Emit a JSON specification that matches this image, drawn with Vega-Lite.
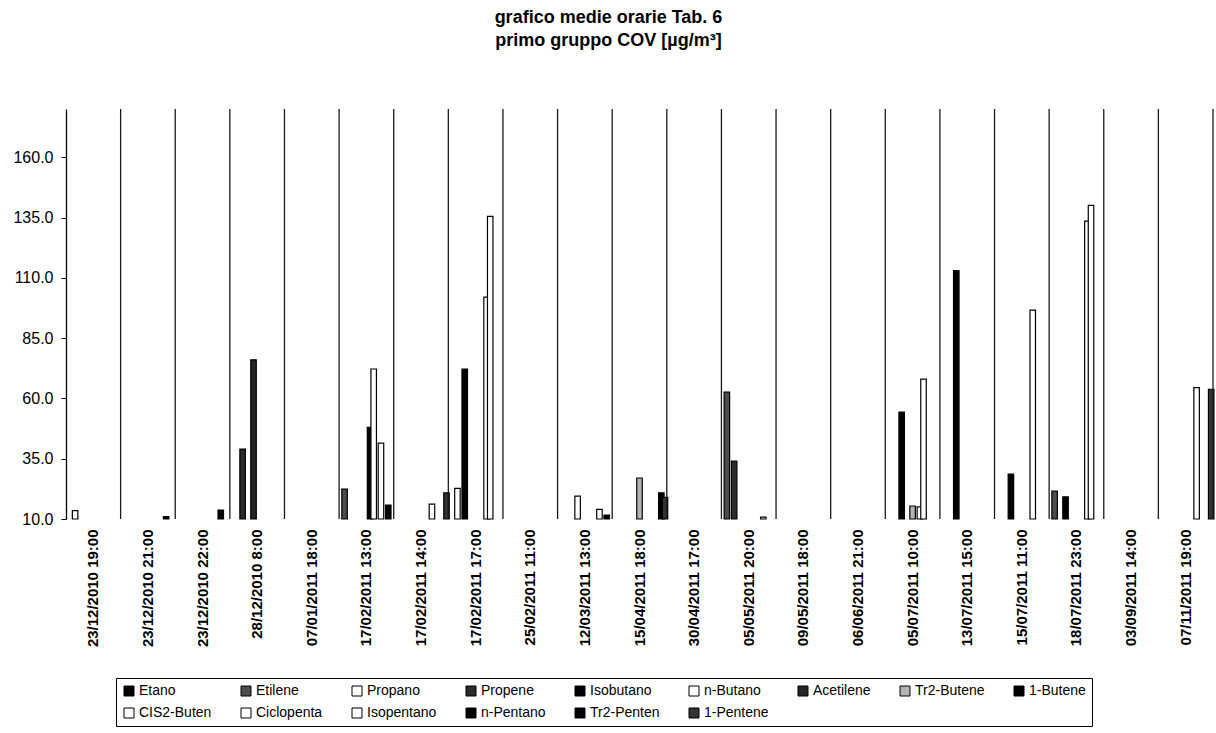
{
  "$schema": "https://vega.github.io/schema/vega-lite/v6.json",
  "width": 1147,
  "height": 410,
  "autosize": {"type": "none"},
  "padding": {"left": 66, "top": 109, "right": 3, "bottom": 214},
  "background": "white",
  "config": {
    "font": "Liberation Sans",
    "view": {"stroke": null}
  },
  "title": {
    "text": ["grafico medie orarie Tab. 6", "primo gruppo COV [µg/m³]"],
    "font": "Liberation Sans",
    "fontSize": 18,
    "fontWeight": "bold",
    "color": "black",
    "anchor": "middle",
    "frame": "group",
    "dx": -31,
    "offset": 58,
    "lineHeight": 23
  },
  "datasets": {
    "categorie": [
      {"data_ora": "23/12/2010 19:00"},
      {"data_ora": "23/12/2010 21:00"},
      {"data_ora": "23/12/2010 22:00"},
      {"data_ora": "28/12/2010 8:00"},
      {"data_ora": "07/01/2011 18:00"},
      {"data_ora": "17/02/2011 13:00"},
      {"data_ora": "17/02/2011 14:00"},
      {"data_ora": "17/02/2011 17:00"},
      {"data_ora": "25/02/2011 11:00"},
      {"data_ora": "12/03/2011 13:00"},
      {"data_ora": "15/04/2011 18:00"},
      {"data_ora": "30/04/2011 17:00"},
      {"data_ora": "05/05/2011 20:00"},
      {"data_ora": "09/05/2011 18:00"},
      {"data_ora": "06/06/2011 21:00"},
      {"data_ora": "05/07/2011 10:00"},
      {"data_ora": "13/07/2011 15:00"},
      {"data_ora": "15/07/2011 11:00"},
      {"data_ora": "18/07/2011 23:00"},
      {"data_ora": "03/09/2011 14:00"},
      {"data_ora": "07/11/2011 19:00"}
    ],
    "medie": [
      {"data_ora": "23/12/2010 19:00", "composto": "Propano", "valore": 13.5},
      {"data_ora": "23/12/2010 21:00", "composto": "n-Pentano", "valore": 11},
      {"data_ora": "23/12/2010 22:00", "composto": "n-Pentano", "valore": 13.7},
      {"data_ora": "28/12/2010 8:00", "composto": "Propene", "valore": 39},
      {"data_ora": "28/12/2010 8:00", "composto": "Acetilene", "valore": 76},
      {"data_ora": "17/02/2011 13:00", "composto": "Etilene", "valore": 22.4},
      {"data_ora": "17/02/2011 13:00", "composto": "1-Butene", "valore": 48},
      {"data_ora": "17/02/2011 13:00", "composto": "CIS2-Buten", "valore": 72.2},
      {"data_ora": "17/02/2011 13:00", "composto": "Isopentano", "valore": 41.5},
      {"data_ora": "17/02/2011 13:00", "composto": "Tr2-Penten", "valore": 15.8},
      {"data_ora": "17/02/2011 14:00", "composto": "Ciclopenta", "valore": 16.2},
      {"data_ora": "17/02/2011 14:00", "composto": "1-Pentene", "valore": 20.8},
      {"data_ora": "17/02/2011 17:00", "composto": "Propano", "valore": 22.7},
      {"data_ora": "17/02/2011 17:00", "composto": "Isobutano", "valore": 72.2},
      {"data_ora": "17/02/2011 17:00", "composto": "Ciclopenta", "valore": 102},
      {"data_ora": "17/02/2011 17:00", "composto": "Isopentano", "valore": 135.5},
      {"data_ora": "12/03/2011 13:00", "composto": "n-Butano", "valore": 19.5},
      {"data_ora": "12/03/2011 13:00", "composto": "Isopentano", "valore": 14},
      {"data_ora": "12/03/2011 13:00", "composto": "Tr2-Penten", "valore": 11.6},
      {"data_ora": "15/04/2011 18:00", "composto": "Tr2-Butene", "valore": 27},
      {"data_ora": "15/04/2011 18:00", "composto": "Tr2-Penten", "valore": 20.8},
      {"data_ora": "15/04/2011 18:00", "composto": "1-Pentene", "valore": 19},
      {"data_ora": "05/05/2011 20:00", "composto": "Etilene", "valore": 62.6},
      {"data_ora": "05/05/2011 20:00", "composto": "Propene", "valore": 34},
      {"data_ora": "05/05/2011 20:00", "composto": "Isopentano", "valore": 10.8},
      {"data_ora": "05/07/2011 10:00", "composto": "Isobutano", "valore": 54.3},
      {"data_ora": "05/07/2011 10:00", "composto": "Tr2-Butene", "valore": 15.4},
      {"data_ora": "05/07/2011 10:00", "composto": "CIS2-Buten", "valore": 15},
      {"data_ora": "05/07/2011 10:00", "composto": "Ciclopenta", "valore": 68},
      {"data_ora": "13/07/2011 15:00", "composto": "Isobutano", "valore": 113},
      {"data_ora": "15/07/2011 11:00", "composto": "Isobutano", "valore": 28.6},
      {"data_ora": "15/07/2011 11:00", "composto": "Ciclopenta", "valore": 96.6},
      {"data_ora": "18/07/2011 23:00", "composto": "Etilene", "valore": 21.6},
      {"data_ora": "18/07/2011 23:00", "composto": "Isobutano", "valore": 19.2},
      {"data_ora": "18/07/2011 23:00", "composto": "Ciclopenta", "valore": 133.5},
      {"data_ora": "18/07/2011 23:00", "composto": "Isopentano", "valore": 140},
      {"data_ora": "07/11/2011 19:00", "composto": "Ciclopenta", "valore": 64.5},
      {"data_ora": "07/11/2011 19:00", "composto": "1-Pentene", "valore": 63.8}
    ]
  },
  "layer": [
    {
      "data": {"name": "medie"},
      "mark": {"type": "bar", "width": 5.5, "stroke": "black", "strokeWidth": 1.2},
      "encoding": {
        "x": {
          "field": "data_ora",
          "type": "ordinal",
          "scale": {
            "domain": ["23/12/2010 19:00", "23/12/2010 21:00", "23/12/2010 22:00", "28/12/2010 8:00", "07/01/2011 18:00", "17/02/2011 13:00", "17/02/2011 14:00", "17/02/2011 17:00", "25/02/2011 11:00", "12/03/2011 13:00", "15/04/2011 18:00", "30/04/2011 17:00", "05/05/2011 20:00", "09/05/2011 18:00", "06/06/2011 21:00", "05/07/2011 10:00", "13/07/2011 15:00", "15/07/2011 11:00", "18/07/2011 23:00", "03/09/2011 14:00", "07/11/2011 19:00"],
            "paddingInner": 0,
            "paddingOuter": 0
          },
          "axis": {
            "title": null,
            "labelAngle": -90,
            "labelFont": "Liberation Sans",
            "labelFontSize": 15,
            "labelFontWeight": "bold",
            "labelColor": "black",
            "labelPadding": 10,
            "labelOverlap": false,
            "labelLimit": 300,
            "ticks": false,
            "domain": false,
            "grid": false
          }
        },
        "xOffset": {
          "field": "composto",
          "type": "nominal",
          "scale": {
            "domain": ["Etano", "Etilene", "Propano", "Propene", "Isobutano", "n-Butano", "Acetilene", "Tr2-Butene", "1-Butene", "CIS2-Buten", "Ciclopenta", "Isopentano", "n-Pentano", "Tr2-Penten", "1-Pentene"],
            "paddingInner": 0,
            "paddingOuter": 0
          }
        },
        "y": {
          "field": "valore",
          "type": "quantitative",
          "scale": {"domain": [10, 180], "zero": false, "nice": false},
          "axis": {
            "title": null,
            "values": [10, 35, 60, 85, 110, 135, 160],
            "format": ".1f",
            "labelFont": "Liberation Sans",
            "labelFontSize": 16,
            "labelColor": "black",
            "labelPadding": 8,
            "tickColor": "black",
            "tickSize": 5,
            "domainColor": "black",
            "domainWidth": 1.3,
            "grid": false
          }
        },
        "y2": {"datum": 10},
        "fill": {
          "field": "composto",
          "type": "nominal",
          "scale": {
            "domain": ["Etano", "Etilene", "Propano", "Propene", "Isobutano", "n-Butano", "Acetilene", "Tr2-Butene", "1-Butene", "CIS2-Buten", "Ciclopenta", "Isopentano", "n-Pentano", "Tr2-Penten", "1-Pentene"],
            "range": ["#000000", "#4d4d4d", "#ffffff", "#2b2b2b", "#000000", "#ffffff", "#262626", "#b3b3b3", "#000000", "#ffffff", "#ffffff", "#ffffff", "#000000", "#000000", "#333333"]
          },
          "legend": {
            "title": null,
            "orient": "none",
            "legendX": 50,
            "legendY": 569,
            "direction": "horizontal",
            "columns": 9,
            "symbolType": "square",
            "symbolSize": 100,
            "symbolStrokeColor": "black",
            "symbolStrokeWidth": 1,
            "labelFont": "Liberation Sans",
            "labelFontSize": 14,
            "labelColor": "black",
            "labelOffset": 3,
            "labelLimit": 200,
            "columnPadding": 27,
            "rowPadding": 8,
            "padding": 6,
            "strokeColor": "black",
            "fillColor": "white"
          }
        }
      }
    },
    {
      "data": {"name": "categorie"},
      "mark": {"type": "rule", "color": "#1a1a1a", "strokeWidth": 1.3},
      "encoding": {
        "x": {
          "field": "data_ora",
          "type": "ordinal",
          "bandPosition": 1
        }
      }
    }
  ]
}
